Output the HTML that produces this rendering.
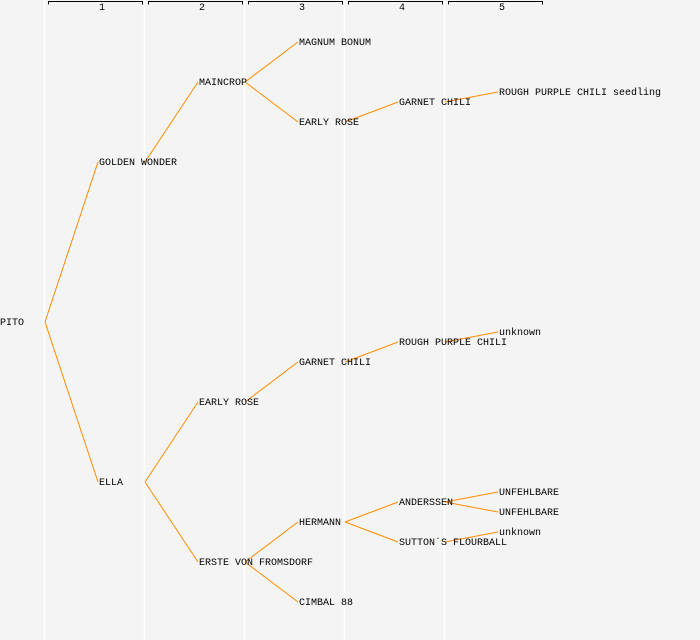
<!DOCTYPE html>
<html><head><style>
html,body{margin:0;padding:0;background:#f4f4f4;}
svg{display:block;}
text{font-family:"Liberation Mono","DejaVu Sans Mono",monospace;font-size:10px;fill:#000;}
</style></head><body>
<svg width="700" height="640" xmlns="http://www.w3.org/2000/svg">
<rect width="700" height="640" fill="#f4f4f4"/>
<g stroke="#ffffff" stroke-width="1.5">
<line x1="44.5" y1="0" x2="44.5" y2="640"/>
<line x1="144.5" y1="0" x2="144.5" y2="640"/>
<line x1="244.5" y1="0" x2="244.5" y2="640"/>
<line x1="344.5" y1="0" x2="344.5" y2="640"/>
<line x1="444.5" y1="0" x2="444.5" y2="640"/>
</g>
<g stroke="#000" stroke-width="1" fill="none">
<path d="M48.5,4.5V1.5H142.5V4.5"/>
<path d="M148.5,4.5V1.5H242.5V4.5"/>
<path d="M248.5,4.5V1.5H342.5V4.5"/>
<path d="M348.5,4.5V1.5H442.5V4.5"/>
<path d="M448.5,4.5V1.5H542.5V4.5"/>
</g>
<g style="font-size:8px" text-anchor="middle">
<text x="102" y="10">1</text><text x="202" y="10">2</text><text x="302" y="10">3</text><text x="402" y="10">4</text><text x="502" y="10">5</text>
</g>
<g stroke="#ff8c00" stroke-width="1" fill="none">
<line x1="45" y1="322" x2="98" y2="162"/>
<line x1="45" y1="322" x2="98" y2="482"/>
<line x1="145" y1="162" x2="198" y2="82"/>
<line x1="245" y1="82" x2="298" y2="42"/>
<line x1="245" y1="82" x2="298" y2="122"/>
<line x1="345" y1="122" x2="398" y2="102"/>
<line x1="445" y1="102" x2="498" y2="92"/>
<line x1="145" y1="482" x2="198" y2="402"/>
<line x1="145" y1="482" x2="198" y2="562"/>
<line x1="245" y1="402" x2="298" y2="362"/>
<line x1="345" y1="362" x2="398" y2="342"/>
<line x1="445" y1="342" x2="498" y2="332"/>
<line x1="245" y1="562" x2="298" y2="522"/>
<line x1="245" y1="562" x2="298" y2="602"/>
<line x1="345" y1="522" x2="398" y2="502"/>
<line x1="345" y1="522" x2="398" y2="542"/>
<line x1="445" y1="502" x2="498" y2="492"/>
<line x1="445" y1="502" x2="498" y2="512"/>
<line x1="445" y1="542" x2="498" y2="532"/>
</g>
<g>
<text x="0" y="325">PITO</text>
<text x="99" y="165">GOLDEN WONDER</text>
<text x="99" y="485">ELLA</text>
<text x="199" y="85">MAINCROP</text>
<text x="299" y="45">MAGNUM BONUM</text>
<text x="299" y="125">EARLY ROSE</text>
<text x="399" y="105">GARNET CHILI</text>
<text x="499" y="95">ROUGH PURPLE CHILI seedling</text>
<text x="199" y="405">EARLY ROSE</text>
<text x="299" y="365">GARNET CHILI</text>
<text x="399" y="345">ROUGH PURPLE CHILI</text>
<text x="499" y="335">unknown</text>
<text x="199" y="565">ERSTE VON FROMSDORF</text>
<text x="299" y="525">HERMANN</text>
<text x="299" y="605">CIMBAL 88</text>
<text x="399" y="505">ANDERSSEN</text>
<text x="399" y="545">SUTTON´S FLOURBALL</text>
<text x="499" y="495">UNFEHLBARE</text>
<text x="499" y="515">UNFEHLBARE</text>
<text x="499" y="535">unknown</text>
</g>
</svg>
</body></html>
